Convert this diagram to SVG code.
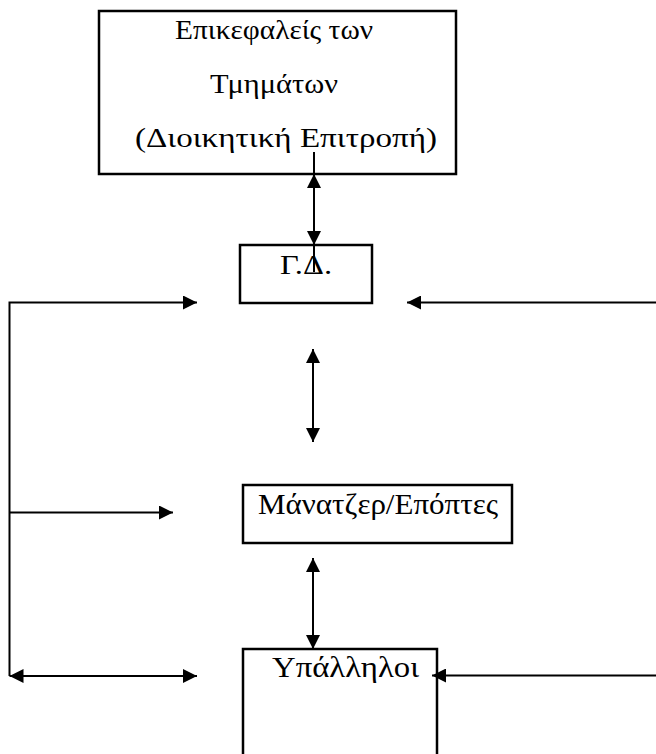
<svg xmlns="http://www.w3.org/2000/svg" width="656" height="754" viewBox="0 0 656 754">
<style>
.box{fill:#fff;stroke:#000;stroke-width:2.5}
.t{font-family:"Liberation Serif","Times New Roman",serif;font-size:27px;fill:#000}
.l{font-size:29px}
.c{fill:none;stroke:#000;stroke-width:2}
</style>
<defs>
<marker id="ah" viewBox="0 0 14 14" refX="14" refY="7" markerWidth="14" markerHeight="14" markerUnits="userSpaceOnUse" orient="auto-start-reverse">
<path d="M0,0 L14,7 L0,14 Z" fill="#000"/>
</marker>
</defs>
<rect width="656" height="754" fill="#fff"/>
<g id="n-heads">
<rect class="box" x="99" y="11" width="357" height="163"/>
<text class="t" x="175" y="39" textLength="198" lengthAdjust="spacingAndGlyphs">Επικεφαλείς των</text>
<text class="t" x="210" y="93" textLength="128" lengthAdjust="spacingAndGlyphs">Τμημάτων</text>
<text class="t" x="135" y="147" textLength="302" lengthAdjust="spacingAndGlyphs">(Διοικητική Επιτροπή)</text>
</g>
<g id="n-gd">
<rect class="box" x="240" y="245" width="132" height="58"/>
<text class="t" x="280" y="274" textLength="52" lengthAdjust="spacingAndGlyphs">Γ.Δ.</text>
</g>
<g id="n-managers">
<rect class="box" x="243" y="485" width="269" height="58"/>
<text class="t l" x="258" y="514" textLength="240" lengthAdjust="spacingAndGlyphs">Μάνατζερ/Επόπτες</text>
</g>
<g id="n-employees">
<rect class="box" x="243" y="649" width="194" height="120"/>
<text class="t l" x="272" y="677" textLength="147" lengthAdjust="spacingAndGlyphs">Υπάλληλοι</text>
</g>
<g id="connectors">
<line class="c" x1="314" y1="152" x2="314" y2="272"/>
<line class="c" x1="314" y1="174" x2="314" y2="245" marker-start="url(#ah)" marker-end="url(#ah)"/>
<line class="c" x1="313" y1="349" x2="313" y2="442" marker-start="url(#ah)" marker-end="url(#ah)"/>
<line class="c" x1="313" y1="558" x2="313" y2="649" marker-start="url(#ah)" marker-end="url(#ah)"/>
<polyline class="c" points="9.5,676 9.5,302.5 197,302.5" marker-end="url(#ah)"/>
<line class="c" x1="9.5" y1="512.5" x2="173" y2="512.5" marker-end="url(#ah)"/>
<line class="c" x1="9.5" y1="676" x2="197" y2="676" marker-start="url(#ah)" marker-end="url(#ah)"/>
<line class="c" x1="656" y1="302.5" x2="407" y2="302.5" marker-end="url(#ah)"/>
<line class="c" x1="656" y1="675.5" x2="432" y2="675.5" marker-end="url(#ah)"/>
</g>
</svg>
